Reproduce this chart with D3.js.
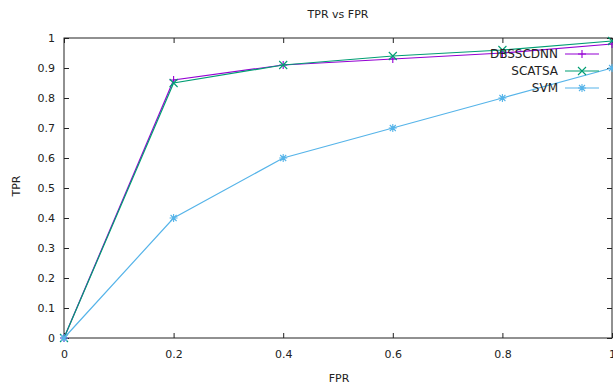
<!DOCTYPE html>
<html>
<head>
<meta charset="utf-8">
<script src="https://cdn.jsdelivr.net/npm/d3@7"></script>
<style>
  body { margin: 0; background: #fff; }
  text { font-family: "DejaVu Sans", sans-serif; font-size: 11px; fill: #222; }
</style>
</head>
<body>
<div class="canvas"></div>
<script>
const fpr = [0, 0.2, 0.4, 0.6, 0.8, 1];
const dbsscdnn = [0, 0.86, 0.91, 0.93, 0.95, 0.98];
const scatsa = [0, 0.85, 0.91, 0.94, 0.96, 0.99];
const svm = [0, 0.4, 0.6, 0.7, 0.8, 0.9];
const seriesNames = ["DBSSCDNN", "SCATSA", "SVM"];
const seriesColors = ["#9400d3", "#009e73", "#56b4e9"];
const xTicks = [0, 0.2, 0.4, 0.6, 0.8, 1];
const yTicks = [0, 0.1, 0.2, 0.3, 0.4, 0.5, 0.6, 0.7, 0.8, 0.9, 1];

const svgWidth = 613, svgHeight = 385;
const margin = { top: 38, right: 1, bottom: 47, left: 64 };
const w = svgWidth - margin.left - margin.right;
const h = svgHeight - margin.top - margin.bottom;

const svg = d3.select('.canvas').append('svg')
  .attr("width", svgWidth)
  .attr("height", svgHeight);

const x = d3.scaleLinear().domain([0, 1]).range([0, w]);
const y = d3.scaleLinear().domain([0, 1]).range([h, 0]);

const graph = svg.append('g')
  .attr("transform", `translate(${margin.left} ${margin.top})`);

// title and axis labels
svg.append('text').attr("x", 338).attr("y", 18).attr("text-anchor", "middle").text("TPR vs FPR");
svg.append('text').attr("x", 339).attr("y", 382).attr("text-anchor", "middle").text("FPR");
svg.append('text').attr("transform", "translate(20 186) rotate(-90)").attr("text-anchor", "middle").text("TPR");

// axes with inward ticks, mirrored like gnuplot
const tickLen = 5;
const xAxis = d3.axisBottom(x).tickValues(xTicks).tickSize(-tickLen).tickPadding(12)
  .tickFormat(d => d3.format("")(d));
const yAxis = d3.axisLeft(y).tickValues(yTicks).tickSize(-tickLen).tickPadding(9)
  .tickFormat(d => d3.format("")(d));

graph.append('g').attr("transform", `translate(0 ${h})`).call(xAxis);
graph.append('g').call(yAxis);
graph.append('g').call(d3.axisTop(x).tickValues(xTicks).tickSize(-tickLen).tickFormat(""));
graph.append('g').attr("transform", `translate(${w} 0)`).call(d3.axisRight(y).tickValues(yTicks).tickSize(-tickLen).tickFormat(""));

graph.selectAll('.domain').remove();
graph.selectAll('.tick line').attr("stroke", "#222");
graph.selectAll('.tick text').style("font-family", "DejaVu Sans").style("font-size", "11px").attr("fill", "#222");

graph.append('rect')
  .attr("width", w).attr("height", h)
  .attr("fill", "none").attr("stroke", "#222").attr("stroke-width", 1);

// point markers: + for first, x for second, * for third
function marker(g, kind, cx, cy, color) {
  const s = 4;
  const p = d3.path();
  if (kind === 0 || kind === 2) {
    p.moveTo(cx - s, cy); p.lineTo(cx + s, cy);
    p.moveTo(cx, cy - s); p.lineTo(cx, cy + s);
  }
  if (kind === 1 || kind === 2) {
    const d = kind === 2 ? s * 0.75 : s;
    p.moveTo(cx - d, cy - d); p.lineTo(cx + d, cy + d);
    p.moveTo(cx - d, cy + d); p.lineTo(cx + d, cy - d);
  }
  g.append('path').attr("d", p.toString()).attr("stroke", color).attr("stroke-width", 1.1).attr("fill", "none");
}

const allSeries = [dbsscdnn, scatsa, svm];
const line = d3.line().x((d, i) => x(fpr[i])).y(d => y(d));

allSeries.forEach((vals, k) => {
  graph.append('path')
    .datum(vals)
    .attr("d", line)
    .attr("fill", "none")
    .attr("stroke", seriesColors[k])
    .attr("stroke-width", 1.2);
  vals.forEach((v, i) => marker(graph, k, x(fpr[i]), y(v), seriesColors[k]));
});

// legend
const legendGroup = svg.append('g');
seriesNames.forEach((name, k) => {
  const ly = 54 + k * 17;
  legendGroup.append('text')
    .attr("x", 558).attr("y", ly + 4)
    .attr("text-anchor", "end")
    .style("font-size", "12px")
    .text(name);
  legendGroup.append('line')
    .attr("x1", 565).attr("x2", 599).attr("y1", ly).attr("y2", ly)
    .attr("stroke", seriesColors[k]).attr("stroke-width", 1.2);
  marker(legendGroup, k, 582, ly, seriesColors[k]);
});
</script>
</body>
</html>
